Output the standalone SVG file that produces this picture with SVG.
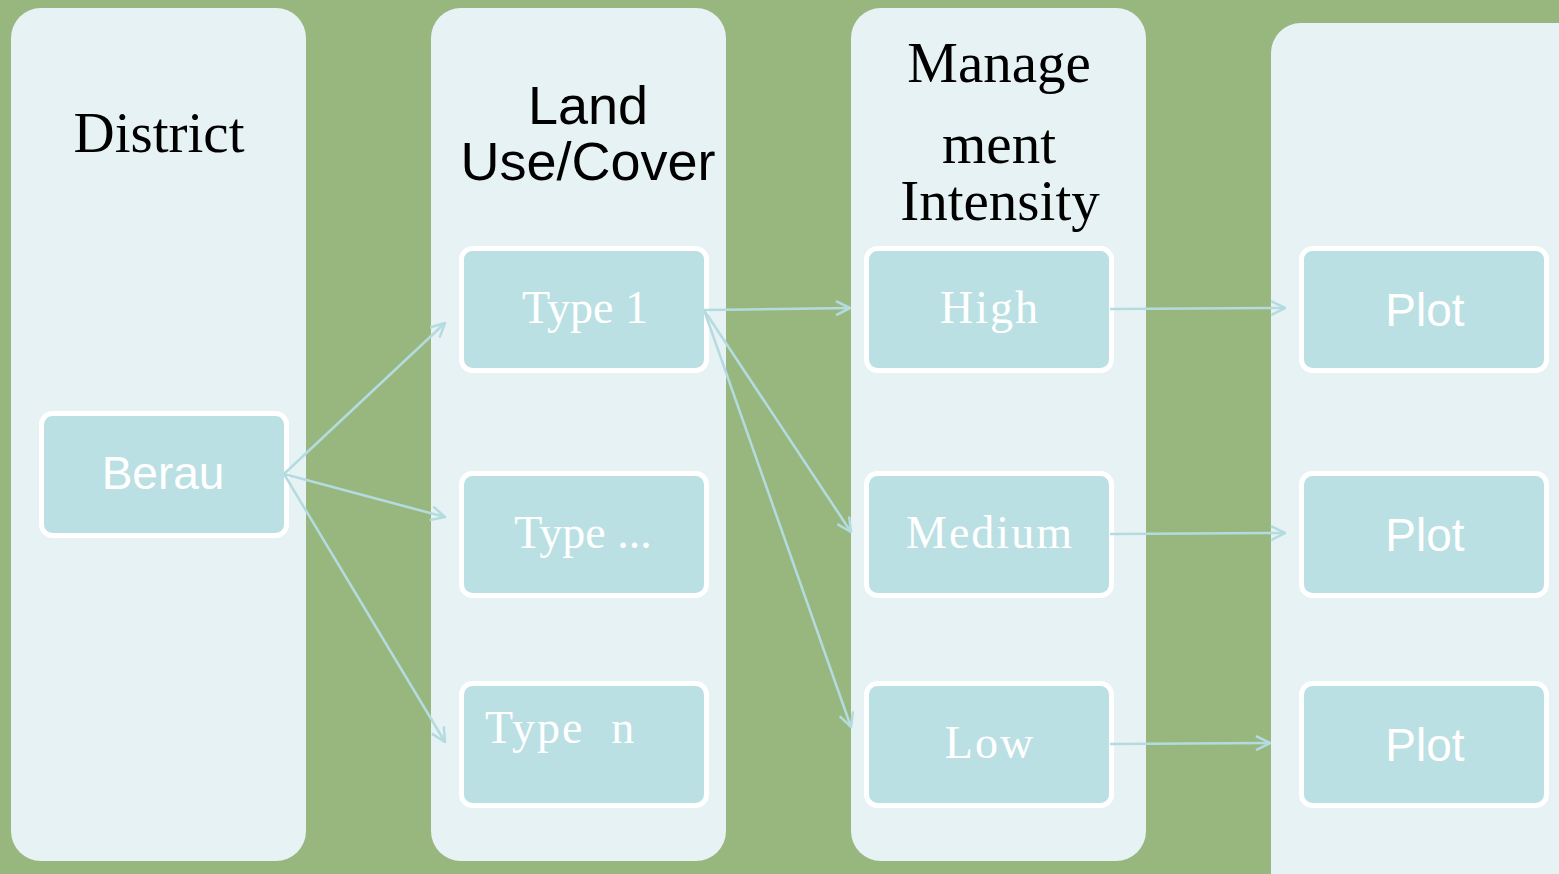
<svg xmlns="http://www.w3.org/2000/svg" width="1559" height="874" viewBox="0 0 1559 874">
<style>
.bg{fill:#98B77F}
.col{fill:#E7F2F4}
.box{fill:#BBE0E3;stroke:#FFFFFF;stroke-width:5}
.hd-serif{font-family:"Liberation Serif","Times New Roman",serif;font-size:57px;fill:#000000;text-anchor:middle}
.hd-sans{font-family:"Liberation Sans",Arial,sans-serif;font-size:54px;fill:#000000;text-anchor:middle}
.lb-serif{font-family:"Liberation Serif","Times New Roman",serif;font-size:46px;fill:#FFFFFF;text-anchor:middle}
.wide{letter-spacing:2px}
.lb-sans{font-family:"Liberation Sans",Arial,sans-serif;font-size:46px;fill:#FFFFFF;text-anchor:middle}
.conn{stroke:#B4DCE0;stroke-width:2.5;fill:none}
</style>
<defs>
<marker id="arr" viewBox="0 0 16 16" refX="15" refY="8" markerWidth="16" markerHeight="16" markerUnits="userSpaceOnUse" orient="auto">
<path d="M1,1 L15,8 L1,15" fill="none" stroke="#B4DCE0" stroke-width="2.5"/>
</marker>
</defs>
<rect class="bg" x="0" y="0" width="1559" height="874"/>

<g id="col-district">
<rect class="col" x="11" y="8" width="295" height="853" rx="30"/>
<text class="hd-serif" x="159" y="152">District</text>
</g>
<g id="col-landuse">
<rect class="col" x="431" y="8" width="295" height="853" rx="30"/>
<text class="hd-sans" x="588" y="124">Land</text>
<text class="hd-sans" x="588" y="180">Use/Cover</text>
</g>
<g id="col-management">
<rect class="col" x="851" y="8" width="295" height="853" rx="30"/>
<text class="hd-serif" x="999" y="82">Manage</text>
<text class="hd-serif" x="999" y="163">ment</text>
<text class="hd-serif" x="1000" y="220">Intensity</text>
</g>
<g id="col-plot">
<rect class="col" x="1271" y="23" width="330" height="900" rx="30"/>
</g>

<g id="node-berau">
<rect class="box" x="41.5" y="413.5" width="245" height="122" rx="11"/>
<text class="lb-sans" x="163" y="489">Berau</text>
</g>
<g id="node-type1">
<rect class="box" x="461.5" y="248.5" width="245" height="122" rx="11"/>
<text class="lb-serif" x="585" y="323">Type 1</text>
</g>
<g id="node-typedots">
<rect class="box" x="461.5" y="473.5" width="245" height="122" rx="11"/>
<text class="lb-serif" x="583" y="548">Type ...</text>
</g>
<g id="node-typen">
<rect class="box" x="461.5" y="683.5" width="245" height="122" rx="11"/>
<text class="lb-serif wide" x="485" y="743" style="text-anchor:start;white-space:pre">Type  n</text>
</g>
<g id="node-high">
<rect class="box" x="866.5" y="248.5" width="245" height="122" rx="11"/>
<text class="lb-serif wide" x="990" y="323">High</text>
</g>
<g id="node-medium">
<rect class="box" x="866.5" y="473.5" width="245" height="122" rx="11"/>
<text class="lb-serif wide" x="990" y="548">Medium</text>
</g>
<g id="node-low">
<rect class="box" x="866.5" y="683.5" width="245" height="122" rx="11"/>
<text class="lb-serif wide" x="990" y="758">Low</text>
</g>
<g id="node-plot1">
<rect class="box" x="1301.5" y="248.5" width="245" height="122" rx="11"/>
<text class="lb-sans" x="1425" y="326">Plot</text>
</g>
<g id="node-plot2">
<rect class="box" x="1301.5" y="473.5" width="245" height="122" rx="11"/>
<text class="lb-sans" x="1425" y="551">Plot</text>
</g>
<g id="node-plot3">
<rect class="box" x="1301.5" y="683.5" width="245" height="122" rx="11"/>
<text class="lb-sans" x="1425" y="761">Plot</text>
</g>

<g id="connectors">
<line class="conn" x1="284" y1="474" x2="445" y2="323" marker-end="url(#arr)"/>
<line class="conn" x1="284" y1="474" x2="445" y2="517" marker-end="url(#arr)"/>
<line class="conn" x1="284" y1="474" x2="445" y2="742" marker-end="url(#arr)"/>
<line class="conn" x1="704" y1="310" x2="850" y2="308" marker-end="url(#arr)"/>
<line class="conn" x1="704" y1="310" x2="851" y2="532" marker-end="url(#arr)"/>
<line class="conn" x1="704" y1="310" x2="851" y2="727" marker-end="url(#arr)"/>
<line class="conn" x1="1110" y1="309" x2="1285" y2="308" marker-end="url(#arr)"/>
<line class="conn" x1="1110" y1="534" x2="1285" y2="533" marker-end="url(#arr)"/>
<line class="conn" x1="1110" y1="744" x2="1270" y2="743" marker-end="url(#arr)"/>
</g>
</svg>
